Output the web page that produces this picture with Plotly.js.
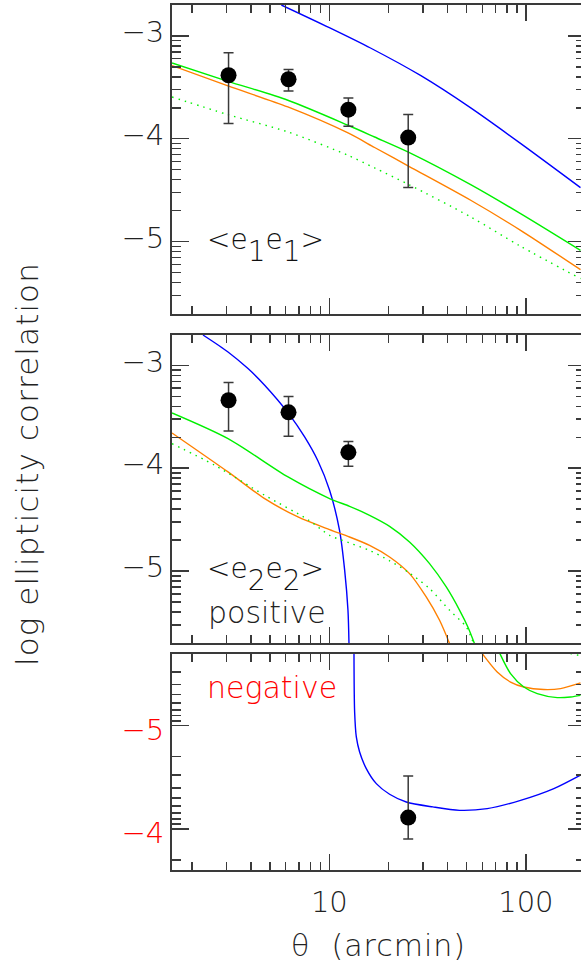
<!DOCTYPE html>
<html>
<head>
<meta charset="utf-8">
<script src="https://cdn.plot.ly/plotly-3.0.1.min.js"></script>
<style>
  html, body { margin: 0; padding: 0; overflow: hidden; background: #fff; }
  #chart { width: 600px; height: 966px; }
</style>
</head>
<body>
<div id="chart"></div>
<script>
// ---- measured points (theta in arcmin, log10 of correlation) ----
var thetaObs = [3.07, 6.2, 12.5, 25.2];
var e1e1 = [-3.383, -3.422, -3.717, -3.989];
var e1e1Hi = [-3.163, -3.328, -3.604, -3.765];
var e1e1Lo = [-3.853, -3.536, -3.879, -4.475];

var thetaObsPos = [3.07, 6.2, 12.5];
var e2e2Pos = [-3.339, -3.456, -3.845];
var e2e2PosHi = [-3.167, -3.303, -3.741];
var e2e2PosLo = [-3.638, -3.689, -3.981];

// negative <e2e2>, plotted as log|xi|
var thetaObsNeg = [25.2];
var e2e2Neg = [-4.109];
var e2e2NegHi = [-3.901];
var e2e2NegLo = [-4.512];

// ---- model curves, top panel <e1e1> ----
var thetaTop = [1.583, 3.05, 6.15, 12.45, 17.0, 25.4, 52.4, 94.0, 189.7];
var topGreen  = [-3.264, -3.442, -3.626, -3.869, -3.983, -4.132, -4.446, -4.728, -5.085];
var topOrange = [-3.289, -3.487, -3.691, -3.944, -4.085, -4.268, -4.598, -4.89, -5.273];
var topDotted = [-3.594, -3.766, -3.934, -4.161, -4.284, -4.446, -4.76, -5.045, -5.36];
var topBlueTheta = [5.70, 10.0, 16.2, 29.1, 52.2, 93.9, 189.7];
var topBlue = [-2.70, -2.92, -3.118, -3.385, -3.698, -4.045, -4.475];

// ---- model curves, middle panel <e2e2> positive ----
var midBlueTheta = [2.276, 3.051, 3.856, 4.688, 6.209, 7.487, 8.755, 10.03, 11.27, 11.97, 12.44, 12.59];
var midBlue = [-2.704, -2.869, -3.031, -3.193, -3.469, -3.696, -3.93, -4.215, -4.604, -4.993, -5.382, -5.706];
var midGreenTheta = [1.583, 3.051, 6.163, 10.03, 12.68, 16.03, 20.26, 25.59, 32.36, 39.36, 46.03, 50.7, 54.8];
var midGreen = [-3.462, -3.712, -4.085, -4.295, -4.37, -4.458, -4.565, -4.717, -4.928, -5.155, -5.382, -5.544, -5.706];
var midOrangeTheta = [1.583, 3.051, 4.688, 6.925, 10.03, 12.68, 16.03, 20.26, 25.59, 31.12, 36.39, 40.93];
var midOrange = [-3.657, -4.036, -4.296, -4.474, -4.597, -4.669, -4.75, -4.863, -5.025, -5.252, -5.479, -5.706];
var midDottedTheta = [1.583, 2.61, 4.688, 7.786, 10.03, 12.68, 16.03, 20.26, 25.11, 32.36, 40.93, 49.77, 54.2];
var midDotted = [-3.761, -3.971, -4.263, -4.50, -4.652, -4.727, -4.80, -4.90, -5.009, -5.171, -5.382, -5.544, -5.706];

// ---- model curves, bottom panel <e2e2> negative ----
var botBlueTheta = [13.35, 13.45, 13.72, 14.26, 15.42, 17.34, 20.26, 24.63, 33.65, 46.0, 63.6, 94.0, 138.8, 189.7];
var botBlue = [-5.7, -5.134, -4.891, -4.745, -4.584, -4.438, -4.335, -4.26, -4.212, -4.179, -4.196, -4.276, -4.39, -4.521];
var botOrangeTheta = [60.0, 71.5, 83.6, 97.7, 123.5, 150.2, 189.7];
var botOrange = [-5.7, -5.522, -5.424, -5.376, -5.351, -5.36, -5.415];
var botGreenTheta = [73.8, 83.6, 97.7, 114.3, 144.5, 168.9, 189.7];
var botGreen = [-5.7, -5.506, -5.376, -5.312, -5.273, -5.279, -5.295];
var botDottedTheta = [168.7, 189.7];
var botDotted = [-5.7, -5.68];

// ---- ticks ----
var xMajor = [10, 100];
var xMajorText = ['10', '100'];
var xMinor = [2, 3, 4, 5, 6, 7, 8, 9, 20, 30, 40, 50, 60, 70, 80, 90, 200];
var yMajor = [-5, -4, -3];

var BLUE = '#0000ff', GREEN = '#00f000', ORANGE = '#ff8000', RED = '#ff0000';
var INK = '#3a3a3a';
var FONT = 'DejaVu Sans';

// log-style minor ticks between integer majors
function yMinorTicks(lo, hi) {
  var out = [];
  for (var n = -7; n <= -2; n++) {
    for (var k = 2; k <= 9; k++) {
      var v = n + Math.log10(k);
      if (v > lo && v < hi) out.push(v);
    }
  }
  return out;
}

function curve(x, y, xa, ya, color, dash) {
  return {
    x: x, y: y, xaxis: xa, yaxis: ya, type: 'scatter', mode: 'lines',
    line: { color: color, width: 1.4, dash: dash || 'solid', shape: 'spline', smoothing: 0.8 },
    hoverinfo: 'skip'
  };
}

function points(x, y, hi, lo, xa, ya) {
  return {
    x: x, y: y, xaxis: xa, yaxis: ya, type: 'scatter', mode: 'markers',
    marker: { color: '#000', size: 16 },
    error_y: {
      type: 'data', symmetric: false,
      array: hi.map(function (h, i) { return h - y[i]; }),
      arrayminus: lo.map(function (l, i) { return y[i] - l; }),
      color: INK, thickness: 1.5, width: 5
    }
  };
}

var DOT = '1.5px,5px';
var data = [
  curve(topBlueTheta, topBlue, 'x', 'y', BLUE),
  curve(thetaTop, topGreen, 'x', 'y', GREEN),
  curve(thetaTop, topOrange, 'x', 'y', ORANGE),
  curve(thetaTop, topDotted, 'x', 'y', GREEN, DOT),
  points(thetaObs, e1e1, e1e1Hi, e1e1Lo, 'x', 'y'),

  curve(midBlueTheta, midBlue, 'x2', 'y2', BLUE),
  curve(midGreenTheta, midGreen, 'x2', 'y2', GREEN),
  curve(midOrangeTheta, midOrange, 'x2', 'y2', ORANGE),
  curve(midDottedTheta, midDotted, 'x2', 'y2', GREEN, DOT),
  points(thetaObsPos, e2e2Pos, e2e2PosHi, e2e2PosLo, 'x2', 'y2'),

  curve(botBlueTheta, botBlue, 'x3', 'y3', BLUE),
  curve(botOrangeTheta, botOrange, 'x3', 'y3', ORANGE),
  curve(botGreenTheta, botGreen, 'x3', 'y3', GREEN),
  curve(botDottedTheta, botDotted, 'x3', 'y3', GREEN, DOT),
  points(thetaObsNeg, e2e2Neg, e2e2NegHi, e2e2NegLo, 'x3', 'y3')
];

function xAxis(anchor, labels) {
  var ax = {
    type: 'log', range: [0.1994, 2.301], anchor: anchor,
    showline: true, linecolor: INK, linewidth: 2, mirror: 'allticks',
    ticks: 'inside', ticklen: 16, tickwidth: 1.5, tickcolor: INK,
    tickmode: 'array', tickvals: xMajor, ticktext: xMajorText,
    showticklabels: labels, ticklabelstandoff: 5,
    tickfont: { family: FONT, size: 29, color: '#222', weight: 200 },
    minor: { tickmode: 'array', tickvals: xMinor, ticks: 'inside', ticklen: 8, tickwidth: 1.5, tickcolor: INK },
    showgrid: false, zeroline: false
  };
  if (anchor !== 'y3') ax.matches = 'x3';
  return ax;
}

function yAxis(domain, range, color, shift) {
  var lo = Math.min(range[0], range[1]), hi = Math.max(range[0], range[1]);
  return {
    domain: domain, range: range,
    showline: true, linecolor: INK, linewidth: 2, mirror: 'allticks',
    ticks: 'inside', ticklen: 17, tickwidth: 1.5, tickcolor: INK,
    tickmode: 'array', tickvals: yMajor, ticklabelshift: shift,
    tickfont: { family: FONT, size: 29, color: color, weight: 200 },
    minor: { tickmode: 'array', tickvals: yMinorTicks(lo, hi), ticks: 'inside', ticklen: 9, tickwidth: 1.5, tickcolor: INK },
    showgrid: false, zeroline: false
  };
}

// plot area in page pixels
var W = 600, H = 966;
var M = { l: 172.3, r: 14.5, t: 4.7, b: 96.3 };
function px(x) { return (x - M.l) / (W - M.l - M.r); }
function py(y) { return (H - M.b - y) / (H - M.t - M.b); }

function label(text, x, y, color, size) {
  return {
    xref: 'paper', yref: 'paper', x: px(x), y: py(y),
    xanchor: 'left', yanchor: 'middle', showarrow: false,
    text: text, font: { family: FONT, size: size || 30, color: color || '#111', weight: 200 }
  };
}

var SUB = '<span style="baseline-shift:-12px">';
var layout = {
  width: W, height: H, margin: M,
  paper_bgcolor: '#fff', plot_bgcolor: '#fff', showlegend: false,
  xaxis: xAxis('y', false),
  xaxis2: xAxis('y2', false),
  xaxis3: xAxis('y3', true),
  yaxis: yAxis([0.6432, 1], [-5.7, -2.7], '#222', -4),
  yaxis2: yAxis([0.2624, 0.619], [-5.7, -2.7], '#222', -4),
  yaxis3: yAxis([0, 0.2502], [-3.6, -5.7], RED, -4),
  annotations: [
    label('&lt;e' + SUB + '1</span>e' + SUB + '1</span>&gt;', 205, 245, '#111', 28),
    label('&lt;e' + SUB + '2</span>e' + SUB + '2</span>&gt;', 205, 574, '#111', 28),
    label('positive', 206, 612, '#222', 30),
    label('negative', 205, 687, RED, 30),
    {
      xref: 'paper', yref: 'paper', x: px(28), y: py(464),
      xanchor: 'center', yanchor: 'middle', showarrow: false, textangle: -90,
      text: '<span style="letter-spacing:1.1px">log ellipticity correlation</span>',
      font: { family: FONT, size: 31, color: '#222', weight: 200 }
    },
    {
      xref: 'paper', yref: 'paper', x: px(379), y: py(945),
      xanchor: 'center', yanchor: 'middle', showarrow: false,
      text: '<span style="letter-spacing:1px">\u03b8\u00a0\u00a0(arcmin)</span>',
      font: { family: FONT, size: 30, color: '#222', weight: 200 }
    }
  ]
};

Plotly.newPlot('chart', data, layout, { staticPlot: true });
</script>
</body>
</html>
